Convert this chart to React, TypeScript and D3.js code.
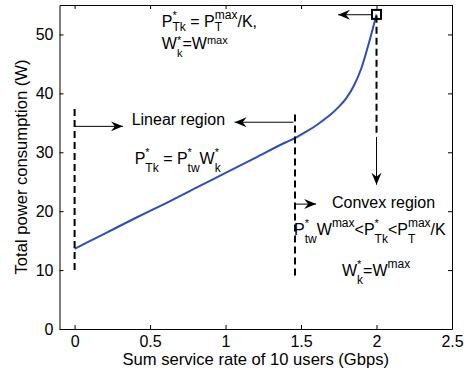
import React, { useEffect, useRef } from 'react';
import * as d3 from 'd3';

// curve
const rate = [0, 0.2, 0.4, 0.6, 0.8, 1.0, 1.2, 1.4, 1.46, 1.52, 1.58, 1.65, 1.7, 1.75, 1.8, 1.85, 1.9, 1.95, 2.0];
const power = [13.6, 16.2, 18.8, 21.3, 23.9, 26.5, 29.1, 31.7, 32.4, 33.3, 34.2, 35.5, 36.5, 37.7, 39.2, 41.3, 44.3, 48.6, 53.4];

const xTicks = [0, 0.5, 1, 1.5, 2, 2.5];
const yTicks = [0, 10, 20, 30, 40, 50];

// dashed region borders: [x, y0, y1]
const dashes = [
  [0, 10, 37.5],
  [1.46, 9.1, 36.7],
  [2.0, 33.3, 53.4],
];

// arrows: [x0, y0, x1, y1] (head at x1,y1)
const arrows = [
  [1.97, 53.35, 1.745, 53.35],
  [0, 34.4, 0.32, 34.4],
  [1.45, 35.1, 1.06, 35.1],
  [1.46, 21.2, 1.6, 21.2],
  [2.0, 32.6, 2.0, 24.5],
];

type Part = { t: string; sup?: string; sub?: string };
// sh: [sup shift, sub shift, script size] in px
const labels: { x: number; y: number; sh: number[]; parts: Part[] }[] = [
  { x: 0.578, y: 51.3, sh: [8, 4, 12], parts: [{ t: 'P', sup: '*', sub: 'Tk' }, { t: ' = P', sup: 'max', sub: 'T' }, { t: '/K,' }] },
  { x: 0.578, y: 47.6, sh: [5, 8, 11], parts: [{ t: 'W', sup: '*', sub: 'k' }, { t: '=W', sup: 'max' }] },
  { x: 0.378, y: 34.6, sh: [8, 8, 12], parts: [{ t: 'Linear region' }] },
  { x: 0.398, y: 28.0, sh: [8, 8, 12], parts: [{ t: 'P', sup: '*', sub: 'Tk' }, { t: ' = P', sup: '*', sub: 'tw' }, { t: 'W', sup: '*', sub: 'k' }] },
  { x: 1.705, y: 20.5, sh: [8, 8, 12], parts: [{ t: 'Convex region' }] },
  { x: 1.454, y: 16.0, sh: [8, 8, 12], parts: [{ t: 'P', sup: '*', sub: 'tw' }, { t: 'W', sup: 'max' }, { t: '<P', sup: '*', sub: 'Tk' }, { t: '<P', sup: 'max', sub: 'T' }, { t: '/K' }] },
  { x: 1.771, y: 9.0, sh: [8, 8, 12], parts: [{ t: 'W', sup: '*', sub: 'k' }, { t: '=W', sup: 'max' }] },
];

const App = () => {
  const svgRef = useRef<SVGSVGElement>(null);

  useEffect(() => {
    const width = 472;
    const height = 374;
    const svg = d3.select(svgRef.current).attr('width', width).attr('height', height);
    svg.selectAll('*').remove();
    const font = '"Liberation Sans", Arial, sans-serif';

    const x = d3.scaleLinear().domain([-0.1, 2.5]).range([59.5, 452]);
    const y = d3.scaleLinear().domain([0, 55]).range([329, 5]);

    svg.append('defs').append('marker')
      .attr('id', 'head')
      .attr('viewBox', '-12 -6 14 12')
      .attr('refX', 0).attr('refY', 0)
      .attr('markerWidth', 14).attr('markerHeight', 12)
      .attr('markerUnits', 'userSpaceOnUse')
      .attr('orient', 'auto')
      .append('path')
      .attr('d', 'M0,0 L-12,-5 L-8,0 L-12,5 Z')
      .attr('fill', '#000');

    // ticks inward, MATLAB style
    const gx = svg.append('g').attr('transform', `translate(0,${y(0)})`)
      .call(d3.axisBottom(x).tickValues(xTicks).tickSizeInner(-4).tickSizeOuter(0).tickPadding(7).tickFormat(d3.format('')));
    const gy = svg.append('g').attr('transform', `translate(${x(-0.1)},0)`)
      .call(d3.axisLeft(y).tickValues(yTicks).tickSizeInner(-4).tickSizeOuter(0).tickPadding(6));
    svg.append('g').attr('transform', `translate(0,${y(55)})`)
      .call(d3.axisTop(x).tickValues(xTicks).tickSizeInner(-4).tickSizeOuter(0).tickFormat(() => ''));
    svg.append('g').attr('transform', `translate(${x(2.5)},0)`)
      .call(d3.axisRight(y).tickValues(yTicks).tickSizeInner(-4).tickSizeOuter(0).tickFormat(() => ''));
    [gx, gy].forEach(g => g.selectAll('text').attr('font-size', 16).attr('font-family', font).attr('fill', '#000'));
    svg.selectAll('.domain').attr('stroke', '#000');
    svg.selectAll('.tick line').attr('stroke', '#000');

    svg.append('text')
      .attr('x', (x(-0.1) + x(2.5)) / 2).attr('y', 365)
      .attr('text-anchor', 'middle').attr('font-size', 16.6).attr('font-family', font)
      .text('Sum service rate of 10 users (Gbps)');
    svg.append('text')
      .attr('transform', `translate(27,${(y(0) + y(55)) / 2}) rotate(-90)`)
      .attr('text-anchor', 'middle').attr('font-size', 16.6).attr('font-family', font)
      .text('Total power consumption (W)');

    const line = d3.line<number>().x((d, i) => x(rate[i])).y(d => y(d)).curve(d3.curveMonotoneX);
    svg.append('path').datum(power)
      .attr('d', line)
      .attr('fill', 'none').attr('stroke', '#2d4fae').attr('stroke-width', 2);

    svg.selectAll('.dash').data(dashes).enter().append('line')
      .attr('x1', d => x(d[0])).attr('x2', d => x(d[0]))
      .attr('y1', d => y(d[1])).attr('y2', d => y(d[2]))
      .attr('stroke', '#000').attr('stroke-width', 2).attr('stroke-dasharray', '7,4');

    svg.append('rect')
      .attr('x', x(2.0) - 4.5).attr('y', y(53.4) - 4.5)
      .attr('width', 9).attr('height', 9)
      .attr('fill', 'none').attr('stroke', '#000').attr('stroke-width', 2);

    svg.selectAll('.arrow').data(arrows).enter().append('line')
      .attr('x1', d => x(d[0])).attr('y1', d => y(d[1]))
      .attr('x2', d => x(d[2])).attr('y2', d => y(d[3]))
      .attr('stroke', '#000').attr('stroke-width', 1)
      .attr('marker-end', 'url(#head)');

    labels.forEach(lab => {
      let cx = x(lab.x);
      const by = y(lab.y);
      const ss = lab.sh[2];
      lab.parts.forEach(p => {
        const main = svg.append('text')
          .attr('x', cx).attr('y', by)
          .attr('font-size', 16).attr('font-family', font)
          .style('white-space', 'pre')
          .text(p.t);
        cx += (main.node() as SVGTextElement).getComputedTextLength();
        let w = 0;
        if (p.sup) {
          const s = svg.append('text').attr('x', cx).attr('y', by - lab.sh[0])
            .attr('font-size', p.sup === '*' ? 11 : ss).attr('font-family', font).text(p.sup);
          w = Math.max(w, (s.node() as SVGTextElement).getComputedTextLength());
        }
        if (p.sub) {
          const s = svg.append('text').attr('x', cx).attr('y', by + lab.sh[1])
            .attr('font-size', ss).attr('font-family', font).text(p.sub);
          w = Math.max(w, (s.node() as SVGTextElement).getComputedTextLength());
        }
        cx += w;
      });
    });
  }, []);

  return (
    <svg ref={svgRef} style={{ position: 'absolute', left: 0, top: 0, background: '#fff' }}></svg>
  );
};

export default App;
